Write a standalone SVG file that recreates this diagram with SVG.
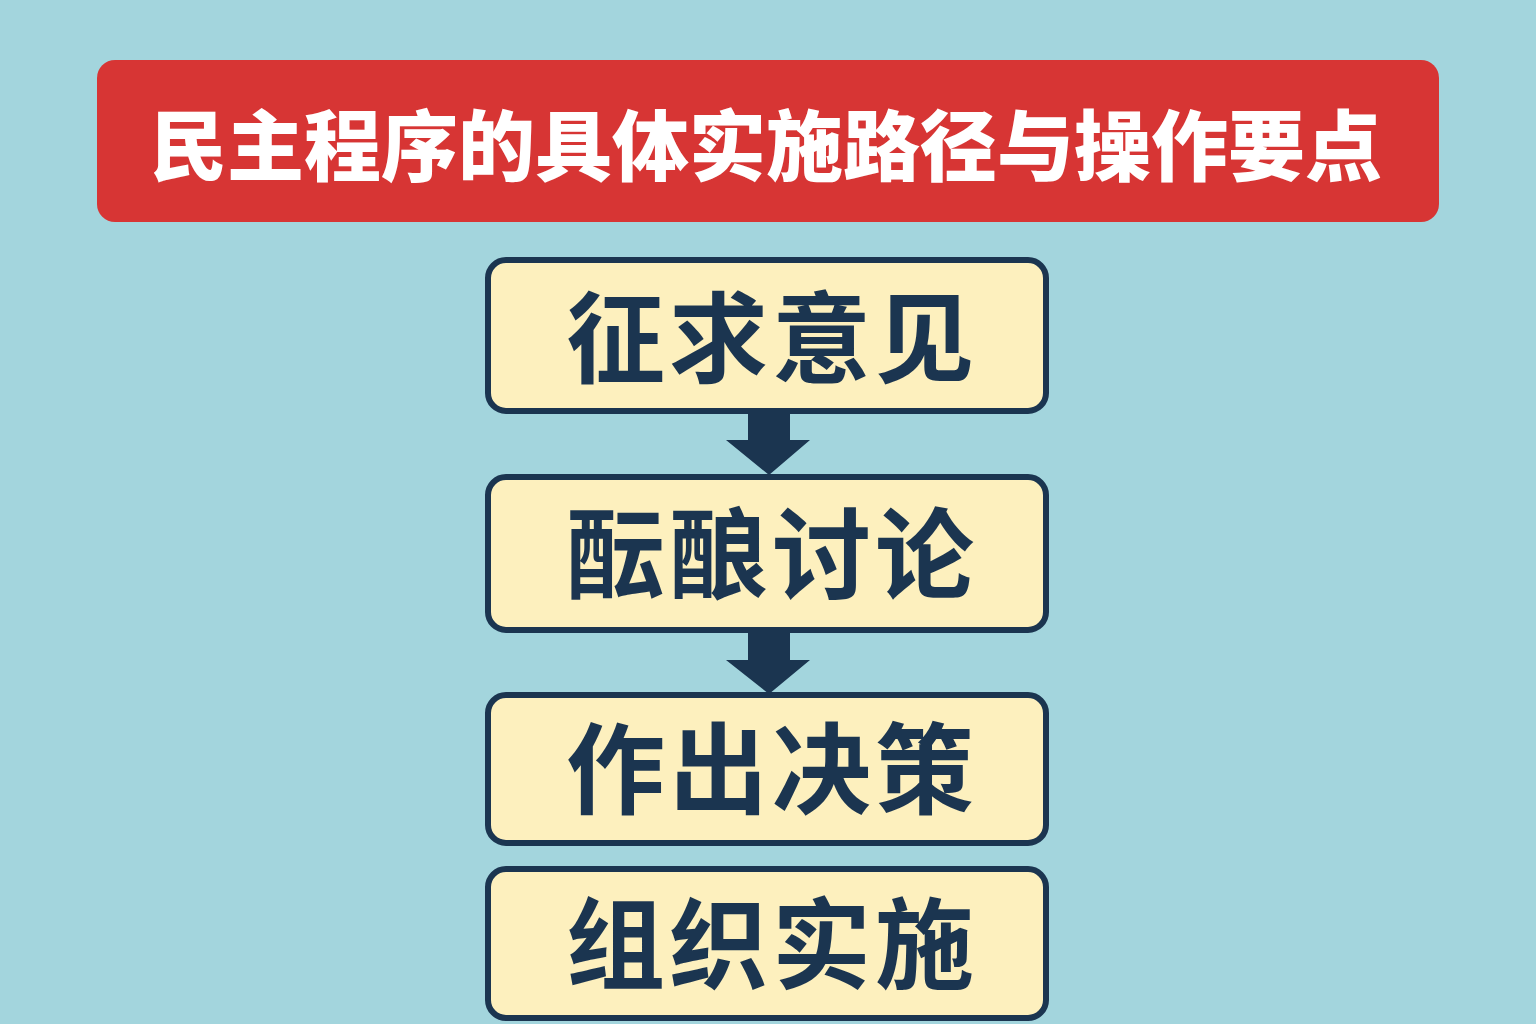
<svg xmlns="http://www.w3.org/2000/svg" width="1536" height="1024" viewBox="0 0 1536 1024">
<style>
.box{fill:#FDF0BE;stroke:#1B3550;stroke-width:6}
.lbl{font-family:"Noto Sans CJK SC","Noto Sans",sans-serif;font-weight:700;font-size:99px;fill:#1B3550;text-anchor:middle;letter-spacing:4px}
.title{font-family:"Noto Sans CJK SC","Noto Sans",sans-serif;font-weight:900;font-size:77px;fill:#FFFFFF;text-anchor:middle}
.arr{fill:#1B3550}
</style>
<rect x="0" y="0" width="1536" height="1024" fill="#A3D5DD"/>
<g id="title">
<rect x="97" y="60" width="1342" height="162" rx="18" fill="#D73534"/>
<text class="title" x="766" y="175">民主程序的具体实施路径与操作要点</text>
</g>
<g id="connectors">
<path class="arr" d="M748 410 H790 V440 H810 L769 475 L726 440 H748 Z"/>
<path class="arr" d="M748 630 H790 V660 H810 L769 694 L726 660 H748 Z"/>
</g>
<g id="n1">
<rect class="box" x="488" y="260" width="558" height="151" rx="18"/>
<text class="lbl" x="772" y="375">征求意见</text>
</g>
<g id="n2">
<rect class="box" x="488" y="477" width="558" height="153" rx="18"/>
<text class="lbl" x="772" y="591">酝酿讨论</text>
</g>
<g id="n3">
<rect class="box" x="488" y="695" width="558" height="148" rx="18"/>
<text class="lbl" x="772" y="806">作出决策</text>
</g>
<g id="n4">
<rect class="box" x="488" y="869" width="558" height="149" rx="18"/>
<text class="lbl" x="772" y="981">组织实施</text>
</g>
</svg>
